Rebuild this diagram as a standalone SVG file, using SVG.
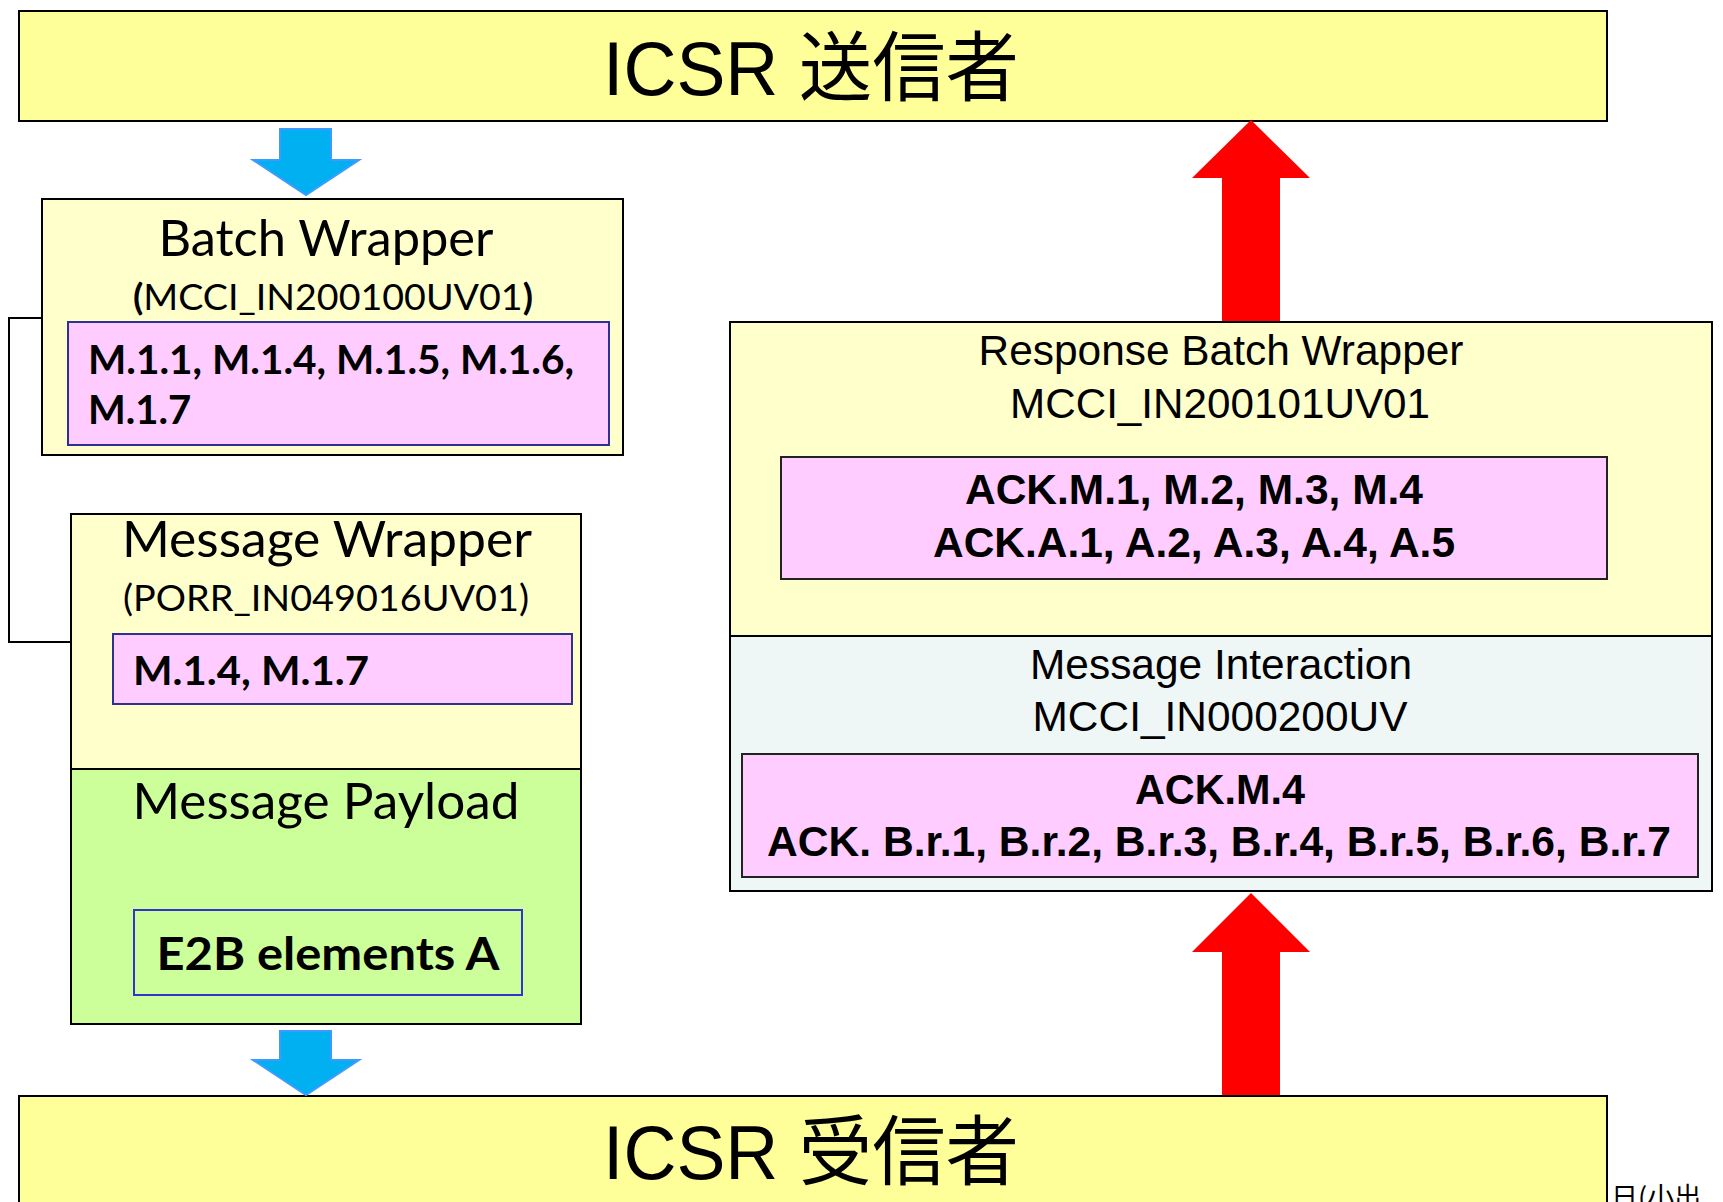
<svg xmlns="http://www.w3.org/2000/svg" width="1723" height="1202" viewBox="0 0 1723 1202">
<style>
.box{stroke:#000;stroke-width:2}
.yel{fill:#FFFF99}
.ltyel{fill:#FFFFCC}
.grn{fill:#CCFF99}
.cyan{fill:#EFF7F6}
.pinkL{fill:#FFCCFF;stroke:#2E3192;stroke-width:2}
.pinkR{fill:#FFCCFF;stroke:#222;stroke-width:2}
.cal{font-family:Lato,"Open Sans",sans-serif;fill:#000}
.calb{font-family:Lato,"Open Sans",sans-serif;font-weight:bold;fill:#000}
.ari{font-family:"Liberation Sans",Arial,sans-serif;fill:#000}
.arib{font-family:"Liberation Sans",Arial,sans-serif;font-weight:bold;fill:#000}
.big{font-family:"Liberation Sans","Noto Sans CJK JP",sans-serif;font-size:76px;fill:#000}
.blue{fill:#00B0F0;stroke:#3D9BFF;stroke-width:2}
.red{fill:#FF0000}
.conn{fill:none;stroke:#000;stroke-width:2}
</style>

<g id="sender">
<rect class="box yel" x="19" y="11" width="1588" height="110"/>
<text class="big" x="603" y="95" textLength="416" lengthAdjust="spacingAndGlyphs">ICSR 送信者</text>
</g>

<g id="receiver">
<rect class="box yel" x="19" y="1096" width="1588" height="120"/>
<text class="big" x="603" y="1179" textLength="416" lengthAdjust="spacingAndGlyphs">ICSR 受信者</text>
</g>

<g id="batch-wrapper">
<rect class="box ltyel" x="42" y="199" width="581" height="256"/>
<text class="cal" x="326" y="256" font-size="50" text-anchor="middle" textLength="335" lengthAdjust="spacingAndGlyphs">Batch Wrapper</text>
<text class="cal" x="333" y="310" font-size="37" text-anchor="middle" textLength="400" lengthAdjust="spacingAndGlyphs"><tspan font-weight="bold">(</tspan>MCCI_IN200100UV01<tspan font-weight="bold">)</tspan></text>
<rect class="pinkL" x="68" y="322" width="541" height="123"/>
<text class="calb" x="88" y="374" font-size="40" textLength="486" lengthAdjust="spacingAndGlyphs">M.1.1, M.1.4, M.1.5, M.1.6,</text>
<text class="calb" x="88" y="424" font-size="40">M.1.7</text>
</g>

<g id="message-wrapper">
<rect class="box ltyel" x="71" y="514" width="510" height="255"/>
<text class="cal" x="327" y="557" font-size="50" text-anchor="middle" textLength="410" lengthAdjust="spacingAndGlyphs">Message Wrapper</text>
<text class="cal" x="326" y="611" font-size="37" text-anchor="middle" textLength="406" lengthAdjust="spacingAndGlyphs">(PORR_IN049016UV01)</text>
<rect class="pinkL" x="113" y="634" width="459" height="70"/>
<text class="calb" x="133" y="685" font-size="40" textLength="236" lengthAdjust="spacingAndGlyphs">M.1.4, M.1.7</text>
</g>

<g id="message-payload">
<rect class="box grn" x="71" y="769" width="510" height="255"/>
<text class="cal" x="326" y="819" font-size="50" text-anchor="middle" textLength="387" lengthAdjust="spacingAndGlyphs">Message Payload</text>
<rect x="134" y="910" width="388" height="85" fill="#CCFF99" stroke="#3333CC" stroke-width="2"/>
<text class="calb" x="328" y="970" font-size="46" text-anchor="middle" textLength="343" lengthAdjust="spacingAndGlyphs">E2B elements A</text>
</g>

<g id="response-batch-wrapper">
<rect class="box ltyel" x="730" y="322" width="982" height="314"/>
<text class="ari" x="1221" y="365" font-size="43" text-anchor="middle" textLength="485" lengthAdjust="spacingAndGlyphs">Response Batch Wrapper</text>
<text class="ari" x="1220" y="418" font-size="43" text-anchor="middle" textLength="420" lengthAdjust="spacingAndGlyphs">MCCI_IN200101UV01</text>
<rect class="pinkR" x="781" y="457" width="826" height="122"/>
<text class="arib" x="1194" y="504" font-size="42" text-anchor="middle" textLength="458" lengthAdjust="spacingAndGlyphs">ACK.M.1, M.2, M.3, M.4</text>
<text class="arib" x="1194" y="557" font-size="42" text-anchor="middle" textLength="522" lengthAdjust="spacingAndGlyphs">ACK.A.1, A.2, A.3, A.4, A.5</text>
</g>

<g id="message-interaction">
<rect class="box cyan" x="730" y="636" width="982" height="255"/>
<text class="ari" x="1221" y="679" font-size="43" text-anchor="middle" textLength="382" lengthAdjust="spacingAndGlyphs">Message Interaction</text>
<text class="ari" x="1220" y="731" font-size="43" text-anchor="middle" textLength="375" lengthAdjust="spacingAndGlyphs">MCCI_IN000200UV</text>
<rect class="pinkR" x="742" y="754" width="956" height="123"/>
<text class="arib" x="1220" y="804" font-size="42" text-anchor="middle" textLength="170" lengthAdjust="spacingAndGlyphs">ACK.M.4</text>
<text class="arib" x="1219" y="856" font-size="42" text-anchor="middle" textLength="904" lengthAdjust="spacingAndGlyphs">ACK. B.r.1, B.r.2, B.r.3, B.r.4, B.r.5, B.r.6, B.r.7</text>
</g>

<g id="connectors">
<polyline class="conn" points="42,318 9,318 9,642 71,642"/>
<polygon class="blue" points="280,129 331,129 331,160 359,160 306,195 253,160 280,160"/>
<polygon class="blue" points="280,1031 331,1031 331,1060 359,1060 306,1095 253,1060 280,1060"/>
<polygon class="red" points="1222,321 1222,178 1192,178 1251,120 1310,178 1280,178 1280,321"/>
<polygon class="red" points="1222,1095 1222,952 1192,952 1251,893 1310,952 1280,952 1280,1095"/>
</g>

<text x="1611" y="1207" font-family="'Noto Sans CJK JP',sans-serif" font-size="27" fill="#000">日(小出</text>
</svg>
